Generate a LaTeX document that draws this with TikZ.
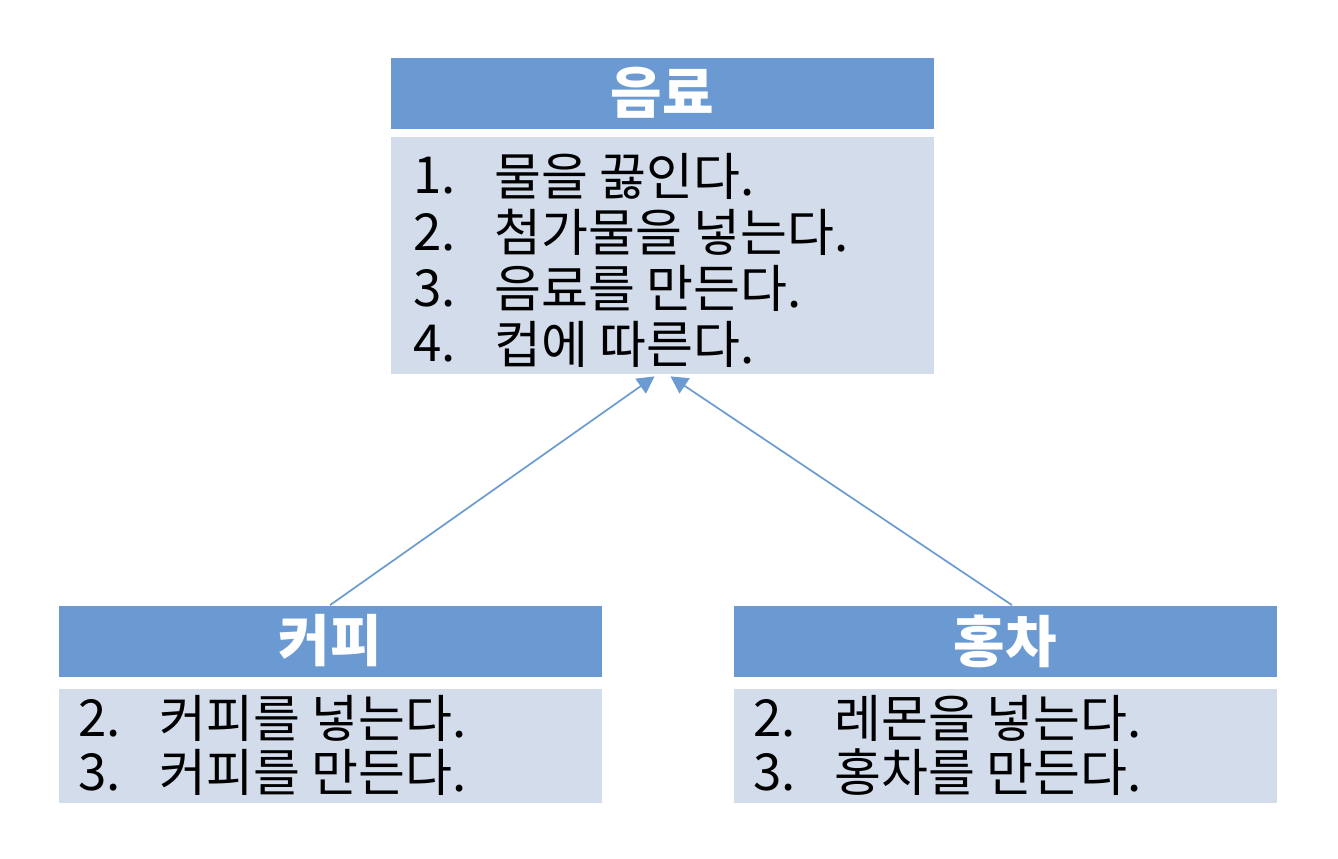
\documentclass[tikz,border=0pt]{standalone}
\usepackage{fontspec}
\setmainfont{Noto Sans CJK KR}
\usetikzlibrary{arrows.meta}
\definecolor{hdr}{HTML}{6A9AD1}
\definecolor{bdy}{HTML}{D3DCEB}
\definecolor{arr}{HTML}{6C9BD2}
\tikzset{
  hdrbox/.style={fill=hdr, draw=none, minimum width=271.5pt, minimum height=35.5pt, inner sep=0pt, text=white, font=\fontsize{28}{32}\selectfont\bfseries},
  bdybox/.style={fill=bdy, draw=none, minimum width=271.5pt, inner sep=0pt},
  item/.style={anchor=west, inner sep=0pt, text=black, font=\fontsize{25.5}{28}\selectfont},
  inherit/.style={draw=arr, line width=0.85pt, -{Triangle[length=8.5pt,width=9pt]}}
}
\begin{document}
\begin{tikzpicture}[x=0.5pt, y=-0.5pt]
\useasboundingbox (0,0) rectangle (1338,858);
\fill[white] (0,0) rectangle (1338,858);
% beverage
\node[hdrbox] (bevh) at (662.5,93) {음료};
\node[bdybox, minimum height=118.5pt] (bevb) at (662.5,255.5) {};
\node[item] (b1n) at (413,176) {1.};
\node[item] (b1t) at (494,176) {물을 끓인다.};
\node[item] (b2n) at (413,232) {2.};
\node[item] (b2t) at (494,232) {첨가물을 넣는다.};
\node[item] (b3n) at (413,288) {3.};
\node[item] (b3t) at (494,288) {음료를 만든다.};
\node[item] (b4n) at (413,344) {4.};
\node[item] (b4t) at (494,344) {컵에 따른다.};
% coffee
\node[hdrbox] (cofh) at (330,641) {커피};
\node[bdybox, minimum height=57pt] (cofb) at (330,746) {};
\node[item] (c2n) at (78,718) {2.};
\node[item] (c2t) at (159,718) {커피를 넣는다.};
\node[item] (c3n) at (78,772) {3.};
\node[item] (c3t) at (159,772) {커피를 만든다.};
% tea
\node[hdrbox] (teah) at (1005,641) {홍차};
\node[bdybox, minimum height=57pt] (teab) at (1005,746) {};
\node[item] (t2n) at (753,718) {2.};
\node[item] (t2t) at (834,718) {레몬을 넣는다.};
\node[item] (t3n) at (753,772) {3.};
\node[item] (t3t) at (834,772) {홍차를 만든다.};
% arrows
\draw[inherit] (cofh.north) -- ([xshift=-4pt,yshift=-1pt]bevb.south);
\draw[inherit] ([xshift=3.5pt]teah.north) -- ([xshift=4pt,yshift=-1pt]bevb.south);
\end{tikzpicture}
\end{document}
